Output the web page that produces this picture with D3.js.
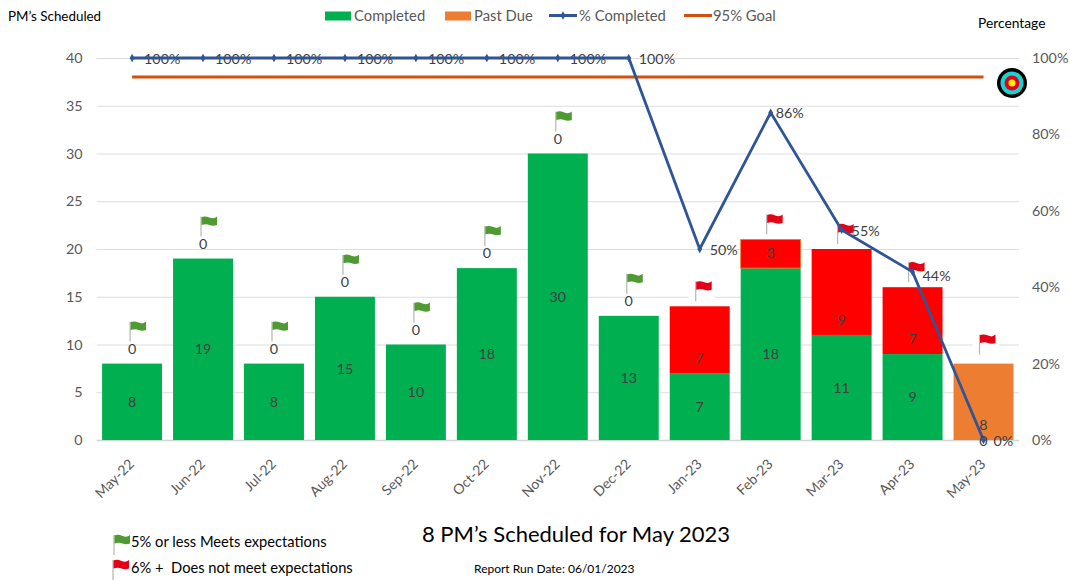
<!DOCTYPE html>
<html><head><meta charset="utf-8">
<script src="https://cdn.jsdelivr.net/npm/d3@7/dist/d3.min.js"></script>
<style>html,body{margin:0;padding:0;background:#fff}svg{display:block}text{font-family:Lato,"Open Sans",sans-serif;white-space:pre}</style>
</head><body><svg id="c" width="1070" height="582">
<defs><filter id="soft" x="-20%" y="-20%" width="140%" height="140%"><feGaussianBlur stdDeviation="0.4"/></filter></defs>
</svg>
<script>
const categories=["May-22","Jun-22","Jul-22","Aug-22","Sep-22","Oct-22","Nov-22","Dec-22","Jan-23","Feb-23","Mar-23","Apr-23","May-23"];
const completed=[8,19,8,15,10,18,30,13,7,18,11,9,0];
const pastDue=[0,0,0,0,0,0,0,0,7,3,9,7,8];
const pctCompleted=[1,1,1,1,1,1,1,1,0.5,0.857,0.55,0.44,0];
const pctLabels=["100%","100%","100%","100%","100%","100%","100%","100%","50%","86%","55%","44%","0%"];
const pastDueColor=["o","o","o","o","o","o","o","o","r","r","r","r","o"];
const flagStatus=["g","g","g","g","g","g","g","g","r","r","r","r","r"];
const goal=0.95;
const leftTicks=[0,5,10,15,20,25,30,35,40];
const rightTicks=[0,0.2,0.4,0.6,0.8,1];

const GREEN="#00B050",ORANGE="#ED7D31",RED="#FF0000",BLUE="#2F5597",GOAL="#D2500F",GRAY="#595959",DARK="#404040";
const svg=d3.select("#c");
const x=d3.scaleBand().domain(categories).range([96.6,1019]).paddingInner(.155).paddingOuter(.0775);
const y=d3.scaleLinear().domain([0,40]).range([440,58]);
const yp=d3.scaleLinear().domain([0,1]).range([440,58]);
const cx=c=>x(c)+x.bandwidth()/2;

// grid
svg.append("g").selectAll("line").data(leftTicks).join("line")
  .attr("x1",96.6).attr("x2",1019).attr("y1",d=>y(d)+.5).attr("y2",d=>y(d)+.5)
  .attr("stroke",d=>d===0?"#D0D6D6":"#DDDDDD").attr("stroke-width",d=>d===0?1.5:1);

// axes
const gl=svg.append("g").attr("transform","translate(96.6,0)")
  .call(d3.axisLeft(y).tickValues(leftTicks).tickSize(0).tickPadding(14));
const gr=svg.append("g").attr("transform","translate(1019,0)")
  .call(d3.axisRight(yp).tickValues(rightTicks).tickFormat(d3.format(".0%")).tickSize(0).tickPadding(13));
const gb=svg.append("g").attr("transform","translate(0,440)")
  .call(d3.axisBottom(x).tickSize(0));
[gl,gr,gb].forEach(g=>{g.select(".domain").remove();g.selectAll("text").attr("fill",GRAY).style("font-size","14.3px");});
gb.selectAll("text").style("font-size","14px").attr("text-anchor","end").attr("dy",0).attr("y",0)
  .attr("transform","translate(3,25) rotate(-45)");

// bars
const rows=categories.map((c,i)=>({c,i,done:completed[i],due:pastDue[i],col:pastDueColor[i]}));
svg.append("g").selectAll("rect").data(rows.filter(d=>d.done>0)).join("rect")
  .attr("x",d=>x(d.c)).attr("width",x.bandwidth())
  .attr("y",d=>y(d.done)).attr("height",d=>y(0)-y(d.done)).attr("fill",GREEN);
svg.append("g").selectAll("rect").data(rows.filter(d=>d.due>0)).join("rect")
  .attr("x",d=>x(d.c)).attr("width",x.bandwidth())
  .attr("y",d=>y(d.done+d.due)).attr("height",d=>y(d.done)-y(d.done+d.due))
  .attr("fill",d=>d.col==="r"?RED:ORANGE)
  .attr("stroke",d=>d.c==="Feb-23"?ORANGE:"none").attr("stroke-width",.8);

// past-due labels
const lab=svg.append("g").attr("fill",DARK).attr("text-anchor","middle").style("font-size","14.3px");
lab.selectAll("text.b").data(rows).join("text").attr("class","b")
  .attr("x",d=>cx(d.c)).attr("y",d=>y(d.done)-15).attr("dy","0.36em").text(d=>d.due);

// flag drawing
function flag(g,px,top,kind,patch){
  const f=g.append("g").attr("transform",`translate(${px},${top})`);
  if(patch) f.append("rect").attr("x",-7).attr("y",-3).attr("width",26).attr("height",25).attr("fill","#fff");
  const art=f.append("g").attr("filter","url(#soft)");
  art.append("line").attr("x1",0).attr("x2",0).attr("y1",0).attr("y2",20).attr("stroke","#B4B7B0").attr("stroke-width",1.2);
  art.append("path").attr("d","M0.5,0.5 Q4,-1 8.5,1 T16,0 L16,8.5 Q12,10 8.5,8.5 T0.5,8.5 Z")
    .attr("fill",kind==="g"?"#4F9A30":"#E60012");
}
const flags=svg.append("g");
rows.forEach((d,i)=>{
  const kind=flagStatus[i], top=y(d.done+d.due);
  if(kind==="g") flag(flags,cx(d.c)-2,top-42,"g",true);
  else flag(flags,cx(d.c)-4,top-(d.due===pastDue[12]?29:25),"r",true);
});

// goal + completed lines
svg.append("line").attr("x1",cx(categories[0])).attr("x2",cx(categories[12]))
  .attr("y1",yp(goal)).attr("y2",yp(goal)).attr("stroke",GOAL).attr("stroke-width",3);
const pl=svg.append("g").attr("fill",DARK).style("font-size","14.3px");
pl.selectAll("text").data(rows).join("text")
  .attr("x",d=>cx(d.c)+(pctCompleted[d.i]===1?(d.i===7?10:12):(d.i===9?5:10)))
  .attr("y",d=>yp(pctCompleted[d.i])+(d.i===11?4:d.i===9?0:1)).attr("dy","0.36em").text(d=>pctLabels[d.i]);
const line=d3.line().x(d=>cx(d.c)).y(d=>yp(pctCompleted[d.i]));
svg.append("path").datum(rows).attr("d",line).attr("fill","none").attr("stroke",BLUE).attr("stroke-width",2.8).attr("stroke-linejoin","miter");
svg.append("g").selectAll("path").data(rows).join("path")
  .attr("transform",d=>`translate(${cx(d.c)},${yp(pctCompleted[d.i])})`)
  .attr("d",d3.symbol(d3.symbolDiamond,20)).attr("fill",BLUE);

// completed labels sit over the line
const lab2=svg.append("g").attr("fill",DARK).attr("text-anchor","middle").style("font-size","14.3px");
lab2.selectAll("text").data(rows).join("text")
  .attr("x",d=>cx(d.c)).attr("y",d=>d.done>0?(y(d.done)+y(0))/2:y(0)+1).attr("dy","0.36em").text(d=>d.done);

// target icon
const tgt=svg.append("g").attr("transform","translate(1012,83)");
[[16.5,"#fff"],[15,"#000"],[11.5,"#19D3D3"],[7.5,"#E3001B"],[3.5,"#FFF200"]].forEach(([r,c])=>tgt.append("circle").attr("r",r).attr("fill",c));

// legend
const lg=svg.append("g").style("font-size","14.8px").attr("fill",GRAY);
[["Completed",325,GREEN],["Past Due",445,ORANGE]].forEach(([t,px,c])=>{
  lg.append("rect").attr("x",px).attr("y",11.5).attr("width",26).attr("height",9).attr("fill",c);
  lg.append("text").attr("x",px+29).attr("y",16).attr("dy","0.36em").text(t);
});
lg.append("line").attr("x1",549).attr("x2",577).attr("y1",15.5).attr("y2",15.5).attr("stroke",BLUE).attr("stroke-width",3);
lg.append("path").attr("transform","translate(563,15.5)").attr("d",d3.symbol(d3.symbolDiamond,20)).attr("fill",BLUE);
lg.append("text").attr("x",579).attr("y",16).attr("dy","0.36em").text("% Completed");
lg.append("line").attr("x1",684).attr("x2",712).attr("y1",15.5).attr("y2",15.5).attr("stroke",GOAL).attr("stroke-width",3);
lg.append("text").attr("x",713).attr("y",16).attr("dy","0.36em").text("95% Goal");

// titles and notes
const t=(s,px,py,fs,anchor="start")=>svg.append("text").attr("x",px).attr("y",py).attr("dy","0.36em")
  .attr("text-anchor",anchor).attr("fill","#000").style("font-size",fs+"px").text(s);
t("PM’s Scheduled",8,16,13.4);
t("Percentage",978,23,13.8);
t("8 PM’s Scheduled for May 2023",576,534,22,"middle");
t("Report Run Date: 06/01/2023",474,569,12);
t("5% or less Meets expectations",131,542,14.7);
t("6% +  Does not meet expectations",131,568,14.7);
flag(svg,114,535,"g",false);
flag(svg,113,560,"r",false);
</script></body></html>
